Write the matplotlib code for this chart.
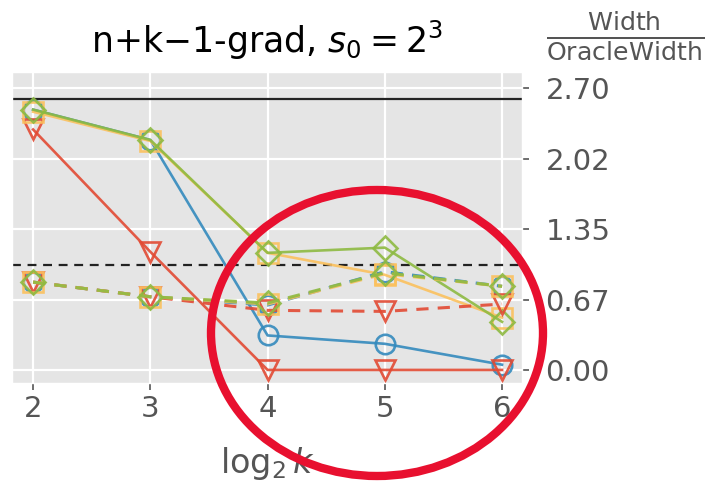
import numpy as np
import matplotlib
matplotlib.use('Agg')
from matplotlib import pyplot as plt
from matplotlib.patches import Ellipse

plt.style.use('ggplot')

# x values (log2 k)
log2k = [2, 3, 4, 5, 6]

# solid lines
blue_solid = [2.49, 2.20, 0.33, 0.25, 0.05]
red_solid = [2.30, 1.13, 0.00, 0.00, 0.00]
yellow_solid = [2.47, 2.19, 1.12, 0.91, 0.50]
green_solid = [2.49, 2.20, 1.12, 1.17, 0.46]

# dashed lines
blue_dashed = [0.84, 0.70, 0.62, 0.94, 0.80]
red_dashed = [0.84, 0.70, 0.57, 0.56, 0.63]
yellow_dashed = [0.84, 0.70, 0.63, 0.92, 0.80]
green_dashed = [0.84, 0.70, 0.64, 0.93, 0.80]

ref_solid = 2.59
ref_dashed = 1.0
yticks = [0.00, 0.67, 1.35, 2.02, 2.70]

colors = {'blue': '#348ABD', 'red': '#E24A33', 'yellow': '#FBC15E', 'green': '#8EBA42'}

fig = plt.figure(figsize=(7.07, 4.87), dpi=100)
ax = fig.add_axes([12/707, 1 - 383/487, 510/707, 311/487])
ax.grid(True, color='white', lw=1.6)

ax.axhline(ref_solid, color='#222222', lw=1.6, zorder=1)
ax.axhline(ref_dashed, color='#222222', lw=1.6, ls=(0, (4, 3)), zorder=1)

series = [
    (blue_solid, 'blue', 'o', '-'),
    (red_solid, 'red', 'v', '-'),
    (yellow_solid, 'yellow', 's', '-'),
    (green_solid, 'green', 'D', '-'),
    (blue_dashed, 'blue', 'o', '--'),
    (red_dashed, 'red', 'v', '--'),
    (yellow_dashed, 'yellow', 's', '--'),
    (green_dashed, 'green', 'D', '--'),
]
for vals, c, m, ls in series:
    ms = 14 if m != 'D' else 12
    ax.plot(log2k, vals, color=colors[c], ls=ls, lw=1.9 if ls == '-' else 2.2,
            marker=m, ms=ms, mfc='none', mew=1.9, alpha=0.9,
            dashes=(4, 3) if ls == '--' else (None, None))

ax.set_xlim(1.82, 6.17)
ax.set_ylim(-0.125, 2.85)
ax.set_xticks(log2k)
ax.set_yticks(yticks)
ax.set_yticklabels(['%.2f' % v for v in yticks])
ax.yaxis.tick_right()
ax.tick_params(axis='both', labelsize=21, colors='#555555', length=5, width=1.2)
ax.tick_params(axis='y', pad=12)
ax.set_xlabel('$\\log_2 k$', fontsize=24, color='#555555', labelpad=16)
ax.set_title('n+k\u22121-grad, $s_0 = 2^3$', fontsize=25, color='black', pad=14)

fig.text(625/707, 1 - 36/487, '$\\frac{\\mathsf{Width}}{\\mathsf{OracleWidth}}$',
         fontsize=26, color='#555555', ha='center', va='center')

# hand-drawn red circle annotation
ell = Ellipse((377/707, 1 - 333/487), 332/707, 286/487, transform=fig.transFigure,
              fill=False, edgecolor='#E8102F', lw=6, zorder=10)
fig.add_artist(ell)

fig.savefig('out.png', dpi=100)
